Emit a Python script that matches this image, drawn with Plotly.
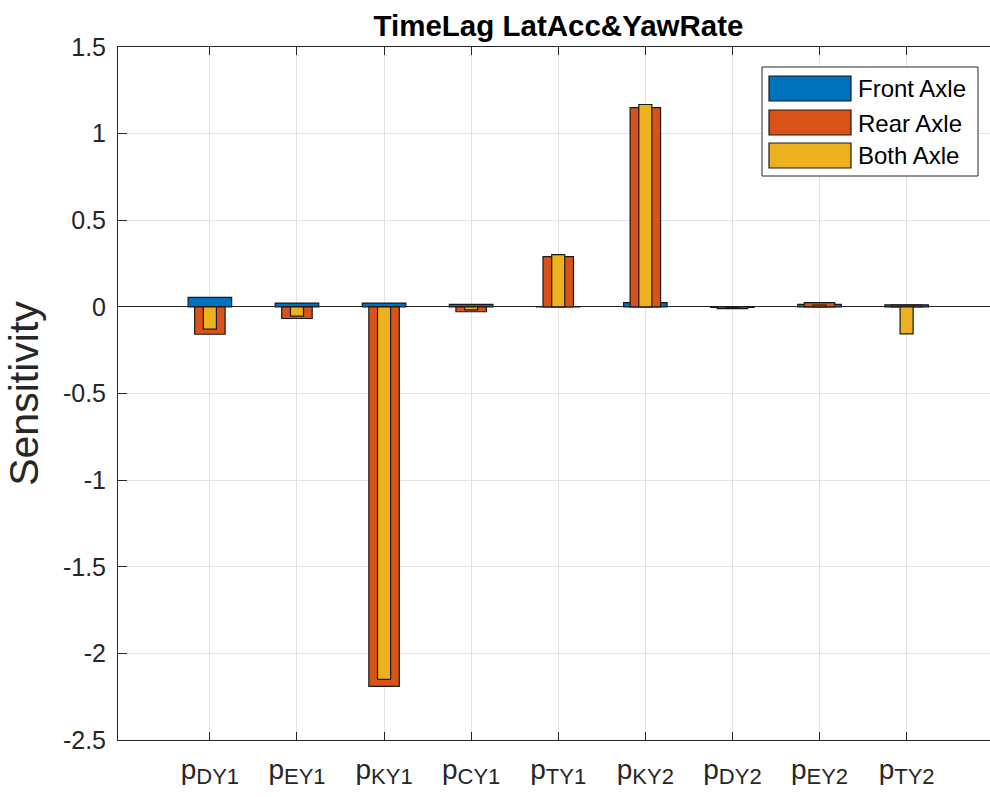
import plotly.graph_objects as go

# Sensitivity of the time lag (lateral acceleration & yaw rate) per tyre parameter
params = ["DY1", "EY1", "KY1", "CY1", "TY1", "KY2", "DY2", "EY2", "TY2"]
front_axle = [0.055, 0.022, 0.022, 0.015, 0.002, 0.024, -0.003, 0.015, 0.012]
rear_axle = [-0.158, -0.067, -2.19, -0.028, 0.29, 1.15, -0.010, 0.025, 0.010]
both_axle = [-0.128, -0.053, -2.15, -0.017, 0.302, 1.168, -0.006, 0.010, -0.156]

series = [
    ("Front Axle", front_axle, "#0072BD", 0.50),
    ("Rear Axle", rear_axle, "#D95319", 0.35),
    ("Both Axle", both_axle, "#EDB120", 0.15),
]

y_ticks = [1.5, 1, 0.5, 0, -0.5, -1, -1.5, -2, -2.5]
y_tick_text = ["1.5", "1", "0.5", "0", "-0.5", "-1", "-1.5", "-2", "-2.5"]

W, H = 990, 797
ML, MR, MT, MB = 118, 0, 47, 57
FONT = "Liberation Sans, Arial, Helvetica, sans-serif"

x_pos = list(range(1, len(params) + 1))

fig = go.Figure()
for name, vals, color, width in series:
    fig.add_trace(go.Bar(
        x=x_pos, y=vals, name=name, width=width,
        marker=dict(color=color, line=dict(color="#1a1a1a", width=1.2)),
        showlegend=False,
    ))

# legend drawn as a MATLAB-style box with wide swatches
plot_w = W - ML - MR
plot_h = H - MT - MB


def px(x):
    return (x - ML) / plot_w


def py(y):
    return (H - MB - y) / plot_h


shapes = [dict(type="rect", xref="paper", yref="paper",
               x0=px(762), x1=px(978), y0=py(176), y1=py(67),
               line=dict(color="#262626", width=1), fillcolor="white", layer="above")]
annotations = []
row_tops = [76, 110, 143]
for (name, _, color, _), top in zip(series, row_tops):
    shapes.append(dict(type="rect", xref="paper", yref="paper",
                       x0=px(769), x1=px(851), y0=py(top + 25), y1=py(top),
                       line=dict(color="#1a1a1a", width=1.2), fillcolor=color, layer="above"))
    annotations.append(dict(xref="paper", yref="paper", x=px(856), y=py(top + 13),
                            text=name, showarrow=False, xanchor="left", yanchor="middle",
                            font=dict(family=FONT, size=24, color="#000000")))

fig.update_layout(
    width=W, height=H,
    margin=dict(l=ML, r=MR, t=MT, b=MB),
    paper_bgcolor="white", plot_bgcolor="white",
    barmode="overlay",
    font=dict(family=FONT, color="#262626"),
    title=dict(text="<b>TimeLag LatAcc&amp;YawRate</b>", x=(ML + 999) / 2 / W, xanchor="center",
               y=1 - 26 / H, yanchor="middle",
               font=dict(family=FONT, size=29.5, color="#000000")),
    shapes=shapes,
    annotations=annotations,
)

fig.update_xaxes(
    range=[-0.055, (W - 122.9) / 87.08],
    tickvals=x_pos,
    ticktext=[f"p<sub><span style='font-size:22px'>{p}</span></sub>" for p in params],
    tickfont=dict(family=FONT, size=28, color="#262626"),
    ticklabelstandoff=4,
    ticks="inside", ticklen=8, tickcolor="#262626", tickwidth=1,
    showline=True, linecolor="#262626", linewidth=1, mirror="ticks",
    showgrid=True, gridcolor="#e3e3e3", gridwidth=1,
    zeroline=False,
)

fig.update_yaxes(
    range=[-2.5, 1.5],
    tickvals=y_ticks, ticktext=y_tick_text,
    tickfont=dict(family=FONT, size=25, color="#262626"),
    ticklabelstandoff=6,
    ticks="inside", ticklen=9, tickcolor="#262626", tickwidth=1,
    showline=True, linecolor="#262626", linewidth=1,
    showgrid=True, gridcolor="#e3e3e3", gridwidth=1,
    zeroline=True, zerolinecolor="#262626", zerolinewidth=1,
    title=dict(text="Sensitivity", font=dict(family=FONT, size=41, color="#262626"), standoff=11),
)

fig.write_html("out.html")
